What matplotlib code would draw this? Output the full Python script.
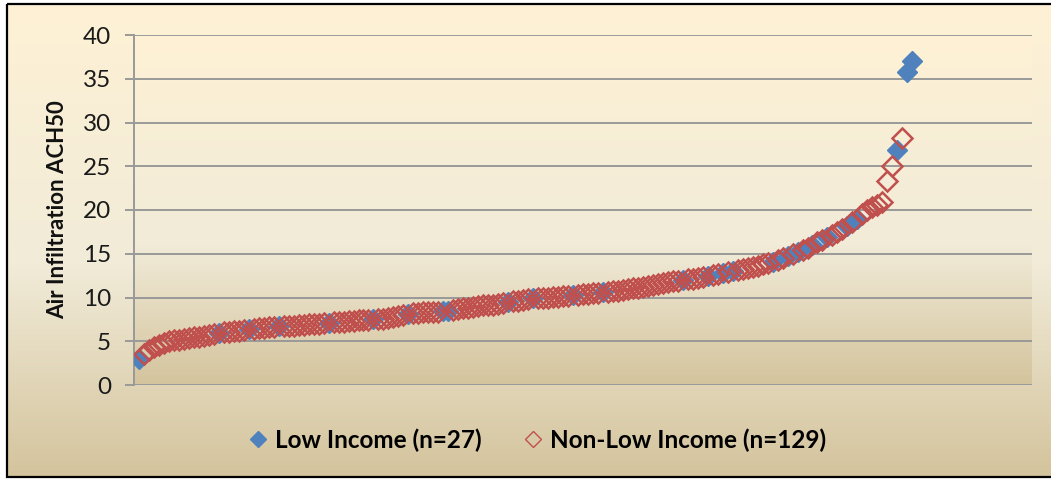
import numpy as np
import matplotlib
matplotlib.use("Agg")
import matplotlib.pyplot as plt
from matplotlib.patches import Rectangle
from matplotlib.colors import to_rgb

# ACH50 values of all homes, sorted ascending (rank 1..156)
ach50_sorted = [
    3.0, 3.5, 4.0, 4.4, 4.6, 4.8, 5.0, 5.1, 5.2, 5.3,
    5.4, 5.5, 5.5, 5.6, 5.7, 5.8, 6.0, 6.1, 6.1, 6.2,
    6.2, 6.3, 6.4, 6.4, 6.5, 6.5, 6.6, 6.6, 6.7, 6.7,
    6.8, 6.8, 6.9, 6.9, 7.0, 7.0, 7.0, 7.1, 7.1, 7.2,
    7.2, 7.2, 7.3, 7.3, 7.4, 7.4, 7.4, 7.5, 7.5, 7.6,
    7.7, 7.8, 7.9, 8.0, 8.1, 8.2, 8.2, 8.3, 8.3, 8.4,
    8.4, 8.5, 8.5, 8.6, 8.7, 8.8, 8.8, 8.9, 9.0, 9.1,
    9.1, 9.2, 9.3, 9.4, 9.5, 9.6, 9.6, 9.7, 9.8, 9.9,
    9.9, 10.0, 10.0, 10.1, 10.1, 10.2, 10.2, 10.3, 10.3, 10.4,
    10.4, 10.5, 10.5, 10.6, 10.6, 10.7, 10.8, 10.9, 11.0, 11.1,
    11.1, 11.2, 11.3, 11.4, 11.6, 11.7, 11.8, 11.9, 11.9, 12.0,
    12.1, 12.1, 12.2, 12.3, 12.5, 12.6, 12.7, 12.8, 12.9, 13.0,
    13.1, 13.3, 13.4, 13.5, 13.6, 13.8, 14.0, 14.1, 14.3, 14.5,
    14.7, 15.0, 15.2, 15.4, 15.7, 16.0, 16.3, 16.6, 16.9, 17.2,
    17.5, 17.8, 18.2, 18.6, 19.0, 19.6, 20.0, 20.3, 20.6, 20.9,
    23.3, 25.0, 26.9, 28.2, 35.8, 37.0,
]
# ranks belonging to low income homes
low_income_ranks = [1, 17, 23, 29, 39, 48, 55, 62, 63, 75, 80, 88, 94, 110,
                    115, 118, 120, 128, 131, 133, 136, 139, 143, 145, 153, 155, 156]
series_labels = ["Low Income (n=27)", "Non-Low Income (n=129)"]
y_ticks = [0, 5, 10, 15, 20, 25, 30, 35, 40]

plt.rcParams['font.family'] = ['Lato', 'DejaVu Sans']

W, H = 1051, 479
fig = plt.figure(figsize=(W / 100, H / 100), dpi=100)
fig.patch.set_facecolor('white')


def gradient(stops, colors, n=256):
    t = np.linspace(0, 1, n)
    rgb = np.array([to_rgb(c) for c in colors])
    cols = np.stack([np.interp(t, stops, rgb[:, i]) for i in range(3)], axis=-1)
    return cols[:, None, :]


# chart area background with border
bg = fig.add_axes([0, 0, 1, 1], zorder=-10)
bg.imshow(gradient([0, 0.55, 1], ['#FEF1D5', '#F1EBD8', '#D4C49D']),
          extent=[7, W + 5, H - 2, 4], aspect='auto')
bg.add_patch(Rectangle((7, 4), W, H - 6, fill=False, ec='black', lw=1.6))
bg.set_xlim(0, W)
bg.set_ylim(H, 0)
bg.axis('off')

ax = fig.add_axes([134 / W, 94 / H, 898 / W, 350 / H])
ax.set_facecolor('none')
ax.imshow(gradient([0, 0.6, 1], ['#FEF1D5', '#F1EBD8', '#D4C49D']),
          extent=[0, 180, 0, 40], aspect='auto', zorder=0)

ranks = np.arange(1, len(ach50_sorted) + 1)
values = np.array(ach50_sorted)
low = np.isin(ranks, low_income_ranks)

ax.plot(ranks[low], values[low], 'D', ls='none', ms=10.5, color='#4F81BD',
        mec='#4F81BD', zorder=3, label=series_labels[0])
ax.plot(ranks[~low], values[~low], 'D', ls='none', ms=10.5, mfc='none',
        mec='#C0504D', mew=1.8, zorder=4, label=series_labels[1])

ax.set_xlim(0, 180)
ax.set_ylim(0, 40)
ax.set_yticks(y_ticks)
ax.set_xticks([])
ax.grid(axis='y', color='#999999', lw=1.4)
ax.set_axisbelow(True)
for side in ['top', 'right', 'bottom']:
    ax.spines[side].set_visible(False)
ax.spines['left'].set_color('#999999')
ax.spines['left'].set_linewidth(1.4)
ax.tick_params(axis='y', length=6.5, width=1.4, color='#999999',
               labelsize=17.5, labelcolor='#1a1a1a', pad=10)

ax.set_ylabel("Air Infiltration ACH50", fontsize=16, fontweight='bold', color='#111111')
ax.yaxis.set_label_coords((68 - 134) / 898, 0.5)

handles, labels = ax.get_legend_handles_labels()
leg = fig.legend(handles, labels, loc='center', bbox_to_anchor=(536 / W, 1 - 440 / H),
                 ncol=2, frameon=False, prop=dict(weight='bold', size=17.5),
                 columnspacing=1.6, handletextpad=0.2, handlelength=1.0, markerscale=0.8)
leg.legend_handles[1].set_markeredgewidth(1.0)

plt.savefig('out.png', dpi=100)
plt.close()
